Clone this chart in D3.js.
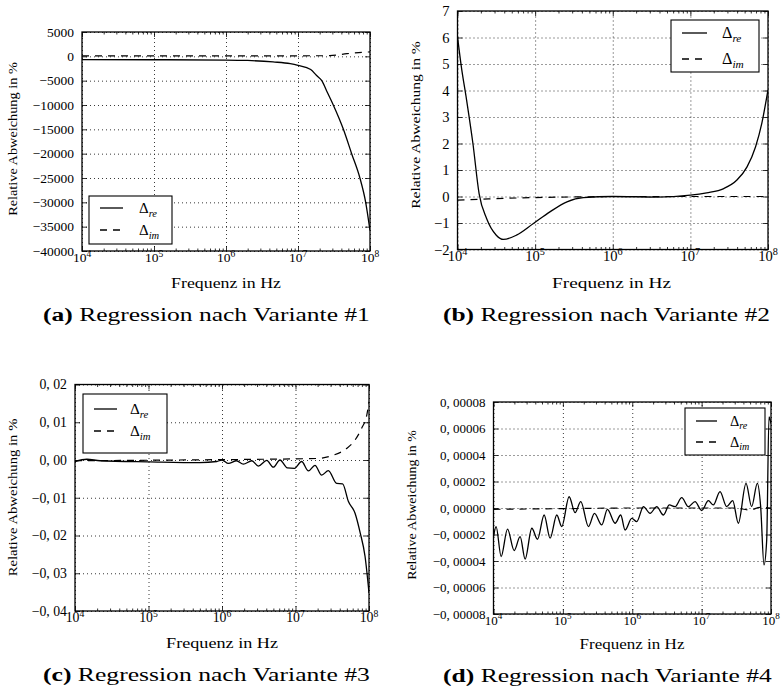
<!DOCTYPE html>
<html>
<head>
<meta charset="utf-8">
<script src="https://cdnjs.cloudflare.com/ajax/libs/d3/7.8.5/d3.min.js"></script>
<style>
body { margin: 0; background: #fff; }
svg text { font-family: "Liberation Serif", "Times New Roman", "DejaVu Serif", serif; fill: #000; }
</style>
</head>
<body>
<svg id="fig" width="781" height="689"></svg>
<script>
// ---- data (frequencies in Hz, deviations in %) ----
var xMajor = [1e4, 1e5, 1e6, 1e7, 1e8];
var xTickExp = ["4", "5", "6", "7", "8"];

// (a) Variante #1
var freqReA = [1e4, 1e5, 1e6, 2e6, 4.5e6, 7.8e6, 1e7, 1.5e7, 1.8e7, 2.14e7, 2.57e7, 3.09e7, 4.27e7, 5.56e7, 7.24e7, 8.71e7, 1e8];
var reA = [-680, -700, -760, -850, -1150, -1500, -1850, -2700, -3900, -5000, -7500, -10000, -15000, -20000, -25000, -30000, -35800];
var freqImA = [1e4, 1e6, 2e7, 2.75e7, 4.8e7, 8.9e7, 1e8];
var imA = [100, 100, 120, 150, 540, 880, 900];
var yTicksA = [5000, 0, -5000, -10000, -15000, -20000, -25000, -30000, -35000, -40000];
var yLabelsA = ["5000", "0", "\u22125000", "\u221210000", "\u221215000", "\u221220000", "\u221225000", "\u221230000", "\u221235000", "\u221240000"];

// (b) Variante #2
var freqReB = [1e4, 1.12e4, 1.31e4, 1.58e4, 1.9e4, 2.37e4, 3.16e4, 3.9e4, 5.75e4, 9.5e4, 1.55e5, 2.57e5, 4.17e5, 1e6, 3.7e6, 1e7, 1.62e7, 2.69e7, 3.98e7, 5.37e7, 6.92e7, 8.32e7, 1e8];
var reB = [6.03, 4.9, 3.64, 2.0, 0.1, -0.83, -1.46, -1.62, -1.46, -1.02, -0.58, -0.2, -0.04, 0, -0.02, 0.05, 0.14, 0.3, 0.62, 1.12, 1.88, 2.76, 4.02];
var freqImB = [1e4, 2.5e4, 1e5, 5e5, 1e6, 1e7, 1e8];
var imB = [-0.14, -0.09, -0.04, -0.01, 0, 0, 0];
var yTicksB = [7, 6, 5, 4, 3, 2, 1, 0, -1, -2];
var yLabelsB = ["7", "6", "5", "4", "3", "2", "1", "0", "\u22121", "\u22122"];

// (c) Variante #3
var freqReC = [1e4, 1.45e4, 2.19e4, 1.05e5, 5e5, 8.5e5, 1e6, 1.22e6, 1.58e6, 1.95e6, 2.54e6, 3.12e6, 4.06e6, 4.99e6, 6.15e6, 7.74e6, 9.7e6, 1.21e7, 1.5e7, 1.84e7, 2.27e7, 2.8e7, 3.63e7, 4.37e7, 5.25e7, 6.46e7, 7.59e7, 8.83e7, 1e8];
var reC = [-0.0004, 0.0002, -0.0002, -0.0005, -0.0007, -0.0004, 0.0, -0.0009, -0.0002, -0.0011, -0.0002, -0.0016, -0.0001, -0.0019, 0.0, -0.0021, -0.0022, -0.0004, -0.0029, -0.0014, -0.004, -0.0028, -0.0062, -0.0063, -0.011, -0.0141, -0.0193, -0.0255, -0.0352];
var freqImC = [1e4, 1e6, 1e7, 1.95e7, 3.3e7, 5e7, 6.46e7, 7.94e7, 9.33e7, 1e8];
var imC = [-0.0002, 0.0001, 0.0003, 0.0004, 0.0013, 0.0031, 0.0053, 0.0084, 0.0119, 0.0154];
var yTicksC = [0.02, 0.01, 0, -0.01, -0.02, -0.03, -0.04];
var yLabelsC = ["0, 02", "0, 01", "0, 00", "\u22120, 01", "\u22120, 02", "\u22120, 03", "\u22120, 04"];

// (d) Variante #4
var freqReD = [1e4, 1.091e4, 1.288e4, 1.592e4, 1.986e4, 2.421e4, 2.858e4, 3.565e4, 4.305e4, 5.37e4, 6.546e4, 8.166e4, 9.638e4,
  1.23e5, 1.5e5, 1.811e5, 2.339e5, 2.851e5, 3.639e5, 4.385e5, 5.662e5, 6.823e5, 7.889e5, 9.84e5,
  1.161e6, 1.449e6, 1.807e6, 2.254e6, 2.812e6, 3.428e6, 4.14e6, 5.164e6, 6.442e6, 8.035e6,
  1.002e7, 1.25e7, 1.476e7, 1.841e7, 2.296e7, 2.805e7, 3.381e7, 4.365e7, 5.26e7, 6.353e7, 7.096e7, 7.925e7, 8.67e7, 9.354e7, 1e8];
var reD = [-2.16e-5, -1.4e-5, -3.66e-5, -1.6e-5, -3.21e-5, -2.16e-5, -3.86e-5, -1.53e-5, -2.36e-5, -0.53e-5, -2.28e-5, -0.53e-5, -1.4e-5,
  0.85e-5, -0.35e-5, 0.48e-5, -1.4e-5, -0.4e-5, -1.28e-5, -0.1e-5, -1.15e-5, -0.53e-5, -1.66e-5, -0.78e-5,
  -1.03e-5, 0.1e-5, -0.4e-5, 0.1e-5, -0.53e-5, 0.23e-5, 0.1e-5, 0.78e-5, 0.1e-5, 0.48e-5,
  -0.2e-5, 0.55e-5, 0.23e-5, 1.23e-5, 0.1e-5, 0.55e-5, -1.15e-5, 1.86e-5, 0.1e-5, 1.86e-5, 0.1e-5, -4.29e-5, -2.41e-5, 6.87e-5, 6.37e-5];
var freqImD = [1e4, 1e5, 1e6, 1e7, 3e7, 5e7, 7e7, 1e8];
var imD = [-1e-6, -0.5e-6, 0, 0, 0, -1.5e-6, 0.5e-6, 0];
var yTicksD = [8e-5, 6e-5, 4e-5, 2e-5, 0, -2e-5, -4e-5, -6e-5, -8e-5];
var yLabelsD = ["0, 00008", "0, 00006", "0, 00004", "0, 00002", "0, 00000", "\u22120, 00002", "\u22120, 00004", "\u22120, 00006", "\u22120, 00008"];

var captionLetters = ["(a)", "(b)", "(c)", "(d)"];
var captionTexts = [" Regression nach Variante #1", " Regression nach Variante #2", " Regression nach Variante #3", " Regression nach Variante #4"];
var xTitle = "Frequenz in Hz";
var yTitle = "Relative Abweichung in %";

// ---- layout ----
var panels = [
  { key: "a", left: 82, right: 370, top: 32, bottom: 251, yDomain: [-40000, 5000], yTicks: yTicksA, yLabels: yLabelsA,
    fRe: freqReA, vRe: reA, fIm: freqImA, vIm: imA,
    legend: { x: 89, y: 196, w: 83, h: 48, l1: 12, l2: 34, lx: 11, lw: 23, tx: 50 },
    yLab: { x: 16.5, cy: 139, w: 154 }, xLab: { cx: 226, y: 288, w: 110 }, cap: { x: 43, y: 321, w: 327 } },
  { key: "b", left: 457.5, right: 768, top: 11, bottom: 249.5, yDomain: [-2, 7], yTicks: yTicksB, yLabels: yLabelsB,
    fRe: freqReB, vRe: reB, fIm: freqImB, vIm: imB,
    legend: { x: 671, y: 20, w: 88, h: 52, l1: 13, l2: 39, lx: 11, lw: 25, tx: 51 },
    yLab: { x: 419.5, cy: 125, w: 168 }, xLab: { cx: 611.5, y: 288, w: 119 }, cap: { x: 443, y: 321, w: 327 } },
  { key: "c", left: 75, right: 369, top: 384.5, bottom: 611, yDomain: [-0.04, 0.02], yTicks: yTicksC, yLabels: yLabelsC,
    fRe: freqReC, vRe: reC, fIm: freqImC, vIm: imC,
    legend: { x: 83, y: 394, w: 84, h: 59, l1: 15, l2: 37, lx: 11, lw: 23, tx: 47 },
    yLab: { x: 16.5, cy: 497.5, w: 158 }, xLab: { cx: 222, y: 648, w: 112 }, cap: { x: 43, y: 681, w: 327 } },
  { key: "d", left: 493.5, right: 771, top: 402, bottom: 614, yDomain: [-8e-5, 8e-5], yTicks: yTicksD, yLabels: yLabelsD,
    fRe: freqReD, vRe: reD, fIm: freqImD, vIm: imD,
    legend: { x: 685, y: 408, w: 80, h: 47, l1: 13, l2: 34, lx: 11, lw: 21, tx: 45 },
    yLab: { x: 416, cy: 505, w: 150 }, xLab: { cx: 632, y: 649, w: 105 }, cap: { x: 443, y: 682, w: 329 } }
];

var svg = d3.select("#fig");
svg.append("rect").attr("width", 781).attr("height", 689).attr("fill", "#fff");
var serif = '"Liberation Serif", "Times New Roman", "DejaVu Serif", serif';

// stretch a text element horizontally to a target width (CM is wider than Times)
function fitWidth(sel, w, tx, ty, rot) {
  var bw = sel.node().getBBox().width;
  var sx = bw > 0 ? w / bw : 1;
  sel.attr("transform", "translate(" + tx + "," + ty + ")" + (rot ? " rotate(" + rot + ")" : "") + " scale(" + sx + ",1)");
}

function styleAxis(g) {
  g.select(".domain").remove();
  g.attr("font-family", serif).attr("fill", null);
  g.selectAll("text").style("font-family", serif);
  g.selectAll("line").attr("stroke", "#000").attr("stroke-width", 0.8);
}

function drawPanel(p, idx) {
  var s = (p.right - p.left) / 288;
  var w = p.right - p.left, h = p.bottom - p.top;
  var g = svg.append("g").attr("class", "panel-" + p.key);

  var x = d3.scaleLog().domain([1e4, 1e8]).range([p.left, p.right]);
  var y = d3.scaleLinear().domain(p.yDomain).range([p.bottom, p.top]);
  var xMinor = x.ticks().filter(function(d) { return xMajor.indexOf(d) < 0; });

  svg.append("clipPath").attr("id", "clip-" + p.key)
    .append("rect").attr("x", p.left).attr("y", p.top).attr("width", w).attr("height", h);

  // dotted grid
  var gx = g.append("g").attr("transform", "translate(0," + p.bottom + ")")
    .call(d3.axisBottom(x).tickValues(xMajor).tickSize(-h).tickFormat(""));
  var gy = g.append("g").attr("transform", "translate(" + p.left + ",0)")
    .call(d3.axisLeft(y).tickValues(p.yTicks).tickSize(-w).tickFormat(""));
  [gx, gy].forEach(function(a) {
    a.select(".domain").remove();
    a.selectAll("line").attr("stroke", "#222").attr("stroke-width", 0.9).attr("stroke-dasharray", "1,3");
  });

  // curves
  var line = d3.line()
    .x(function(d) { return x(d[0]); })
    .y(function(d) { return y(d[1]); })
    .curve(d3.curveMonotoneX);
  var plot = g.append("g").attr("clip-path", "url(#clip-" + p.key + ")");
  plot.append("path").datum(d3.zip(p.fIm, p.vIm)).attr("d", line)
    .attr("fill", "none").attr("stroke", "#000").attr("stroke-width", 1.2).attr("stroke-dasharray", "7,6");
  plot.append("path").datum(d3.zip(p.fRe, p.vRe)).attr("d", line)
    .attr("fill", "none").attr("stroke", "#000").attr("stroke-width", 1.3);

  // inward ticks on all four sides
  g.append("g").attr("transform", "translate(0," + p.bottom + ")")
    .call(d3.axisBottom(x).tickValues(xMajor).tickSize(-5).tickFormat("")).call(styleAxis);
  g.append("g").attr("transform", "translate(0," + p.bottom + ")")
    .call(d3.axisBottom(x).tickValues(xMinor).tickSize(-2.5).tickFormat("")).call(styleAxis);
  g.append("g").attr("transform", "translate(0," + p.top + ")")
    .call(d3.axisTop(x).tickValues(xMajor).tickSize(-5).tickFormat("")).call(styleAxis);
  g.append("g").attr("transform", "translate(0," + p.top + ")")
    .call(d3.axisTop(x).tickValues(xMinor).tickSize(-2.5).tickFormat("")).call(styleAxis);
  g.append("g").attr("transform", "translate(" + p.right + ",0)")
    .call(d3.axisRight(y).tickValues(p.yTicks).tickSize(-5).tickFormat("")).call(styleAxis);
  var yl = g.append("g").attr("transform", "translate(" + p.left + ",0)")
    .call(d3.axisLeft(y).tickValues(p.yTicks).tickSize(-5).tickPadding(8)
      .tickFormat(function(d, i) { return p.yLabels[i]; }))
    .call(styleAxis);
  yl.attr("font-size", 13.5 * s);

  // frame
  g.append("rect").attr("x", p.left).attr("y", p.top).attr("width", w).attr("height", h)
    .attr("fill", "none").attr("stroke", "#000").attr("stroke-width", 1.3);

  // x tick labels 10^n
  g.selectAll(".xl").data(xMajor).enter().append("text")
    .attr("class", "xl")
    .attr("x", function(d) { return x(d); })
    .attr("y", p.bottom + 11 * s)
    .attr("text-anchor", "middle")
    .attr("font-size", 13.5 * s)
    .style("font-family", serif)
    .each(function(d, i) {
      var t = d3.select(this);
      t.append("tspan").text("10");
      t.append("tspan").attr("dy", -5.5 * s).attr("font-size", 9.5 * s).text(xTickExp[i]);
    });

  // legend
  var L = p.legend;
  var lg = g.append("g").attr("transform", "translate(" + L.x + "," + L.y + ")");
  lg.append("rect").attr("width", L.w).attr("height", L.h)
    .attr("fill", "#fff").attr("stroke", "#000").attr("stroke-width", 1.1);
  [["re", L.l1, null], ["im", L.l2, "7,6"]].forEach(function(e) {
    lg.append("line").attr("x1", L.lx).attr("x2", L.lx + L.lw).attr("y1", e[1]).attr("y2", e[1])
      .attr("stroke", "#000").attr("stroke-width", 1.3).attr("stroke-dasharray", e[2]);
    var t = lg.append("text").attr("x", L.tx).attr("y", e[1] + 5).attr("font-size", 15 * s).style("font-family", serif);
    t.append("tspan").text("\u0394");
    t.append("tspan").attr("dy", 3.5 * s).attr("font-size", 10.5 * s).attr("font-style", "italic").text(e[0]);
  });

  // axis titles
  var xt = g.append("text").attr("text-anchor", "middle").attr("font-size", 14).style("font-family", serif).text(xTitle);
  fitWidth(xt, p.xLab.w, p.xLab.cx, p.xLab.y, 0);
  var yt = g.append("text").attr("text-anchor", "middle").attr("font-size", 13).style("font-family", serif).text(yTitle);
  fitWidth(yt, p.yLab.w, p.yLab.x, p.yLab.cy, -90);

  // caption
  var cp = g.append("text").attr("font-size", 18.5).style("font-family", serif);
  cp.append("tspan").attr("font-weight", "bold").text(captionLetters[idx]);
  cp.append("tspan").text(captionTexts[idx]);
  fitWidth(cp, p.cap.w, p.cap.x, p.cap.y, 0);
}

panels.forEach(drawPanel);
</script>
</body>
</html>
